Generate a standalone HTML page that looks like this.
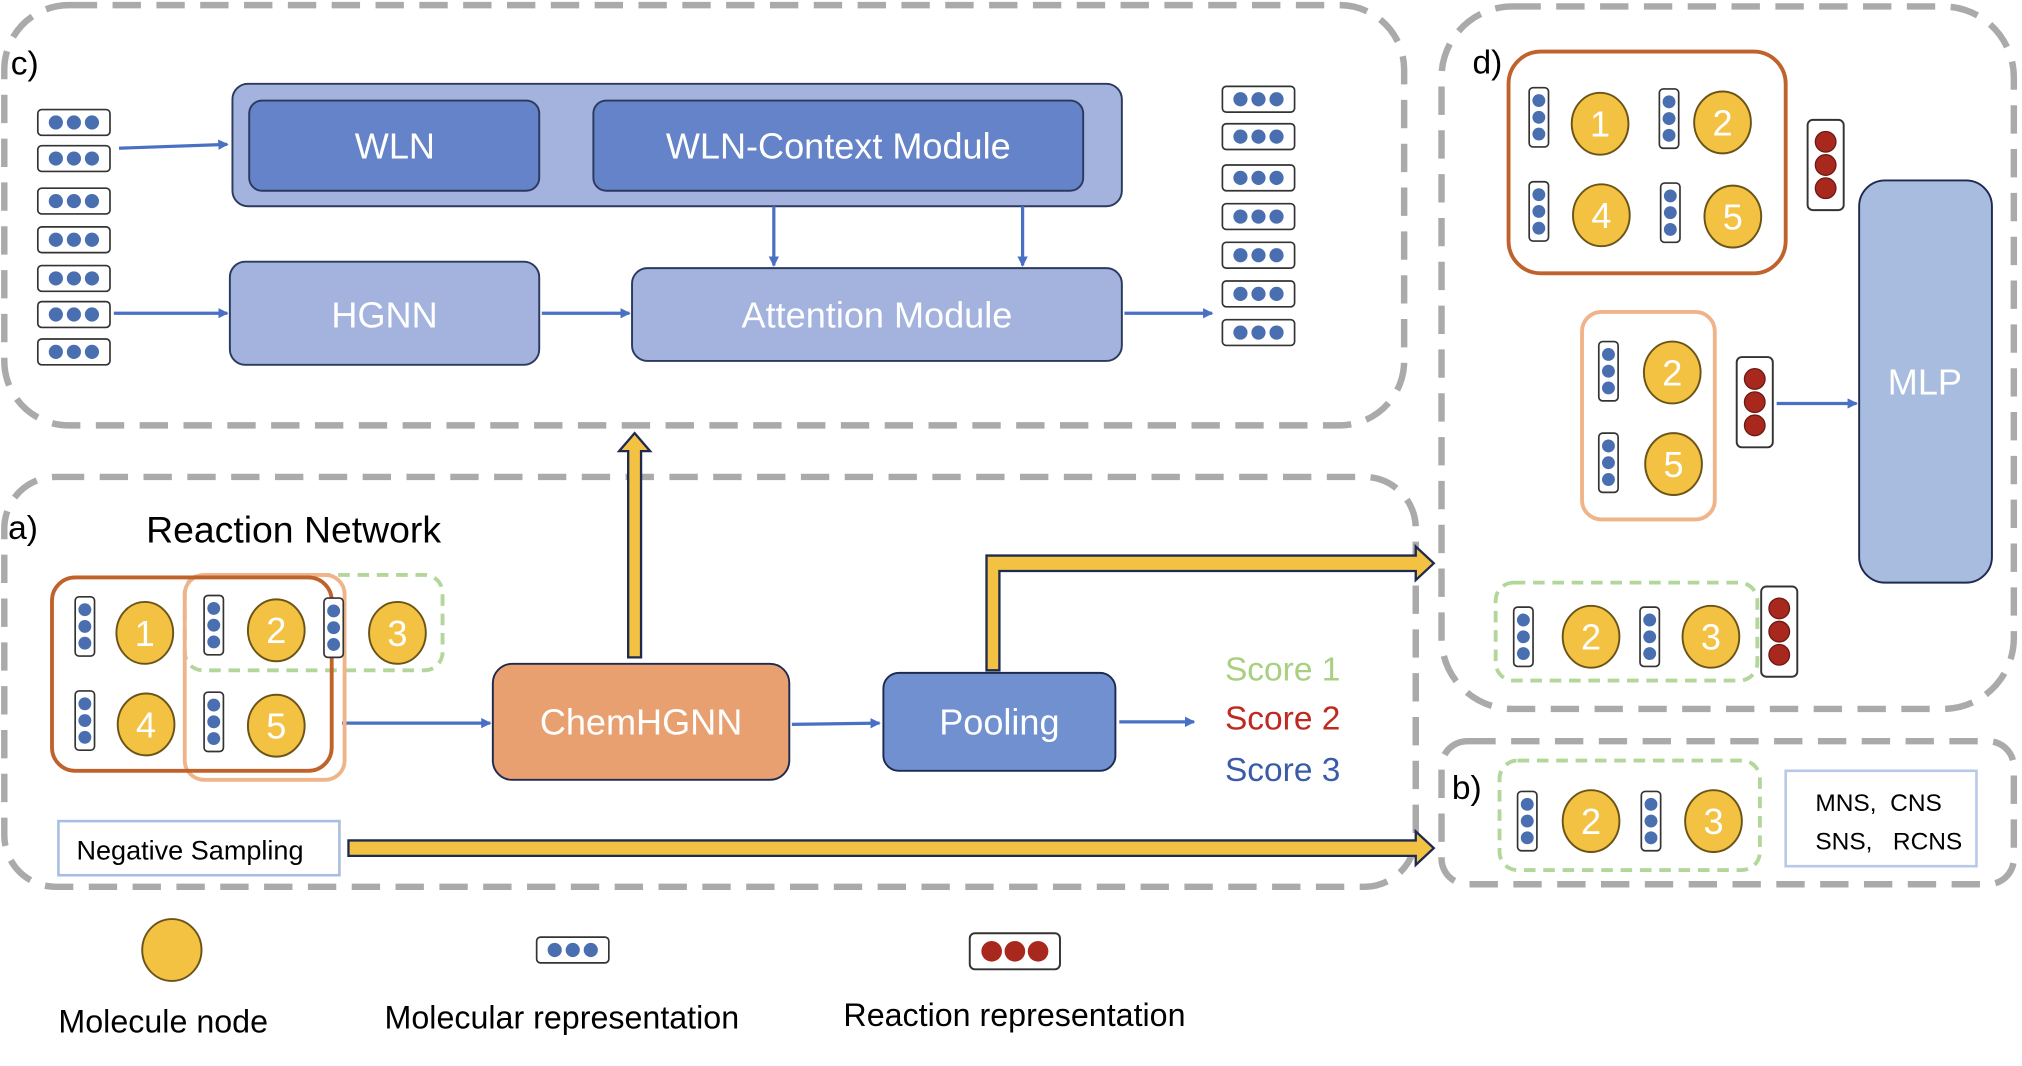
<!DOCTYPE html>
<html><head><meta charset="utf-8"><style>html,body{margin:0;padding:0;background:#fff}svg{display:block}text{font-family:"Liberation Sans",sans-serif}</style></head>
<body>
<svg width="2022" height="1066" viewBox="0 0 1568 827" xmlns="http://www.w3.org/2000/svg">
<defs>
<g id="v"><rect x="0" y="0" width="15" height="46" rx="3" fill="#fff" stroke="#333" stroke-width="1.3"/><circle cx="7.5" cy="10" r="5" fill="#4a6fb0"/><circle cx="7.5" cy="23" r="5" fill="#4a6fb0"/><circle cx="7.5" cy="36" r="5" fill="#4a6fb0"/></g>
<g id="h"><rect x="0" y="0" width="56" height="20" rx="3" fill="#fff" stroke="#333" stroke-width="1.3"/><circle cx="14" cy="10" r="5.5" fill="#4a6fb0"/><circle cx="28" cy="10" r="5.5" fill="#4a6fb0"/><circle cx="42" cy="10" r="5.5" fill="#4a6fb0"/></g>
<g id="r"><rect x="0" y="0" width="28" height="70" rx="4" fill="#fff" stroke="#333" stroke-width="1.5"/><circle cx="14" cy="17" r="8" fill="#a8281e" stroke="#6a1a14"/><circle cx="14" cy="35" r="8" fill="#a8281e" stroke="#6a1a14"/><circle cx="14" cy="53" r="8" fill="#a8281e" stroke="#6a1a14"/></g>
<g id="c"><ellipse cx="0" cy="0" rx="22" ry="24" fill="#f4c242" stroke="#6a5418" stroke-width="1.5"/></g>
<marker id="ab" markerWidth="8" markerHeight="8" refX="7" refY="4" orient="auto" markerUnits="userSpaceOnUse"><path d="M0,0 L8,4 L0,8 z" fill="#4a70c4"/></marker>
</defs>
<g fill="none" stroke="#aaa" stroke-width="5" stroke-dasharray="22 12">
<rect x="3" y="4" width="1086" height="326" rx="50"/>
<rect x="3" y="370" width="1095" height="318" rx="40"/>
<rect x="1118" y="5" width="444" height="545" rx="55"/>
<rect x="1118" y="575" width="444" height="111" rx="20"/>
</g>
<g font-size="26" fill="#000">
<text x="8" y="58">c)</text><text x="6" y="418">a)</text><text x="1142" y="57">d)</text><text x="1126" y="620">b)</text>
<text x="113" y="421" font-size="29">Reaction Network</text>
</g>
<g>
<use href="#h" x="29" y="85"/><use href="#h" x="29" y="113"/><use href="#h" x="29" y="146"/><use href="#h" x="29" y="176"/><use href="#h" x="29" y="206"/><use href="#h" x="29" y="234"/><use href="#h" x="29" y="263"/>
<use href="#h" x="948" y="67"/><use href="#h" x="948" y="96"/><use href="#h" x="948" y="128"/><use href="#h" x="948" y="158"/><use href="#h" x="948" y="188"/><use href="#h" x="948" y="218"/><use href="#h" x="948" y="248"/>
</g>
<rect x="180" y="65" width="690" height="95" rx="12" fill="#a3b3de" stroke="#2b3a5e" stroke-width="1.5"/>
<rect x="193" y="78" width="225" height="70" rx="10" fill="#6583c8" stroke="#2b3a5e" stroke-width="1.5"/>
<rect x="460" y="78" width="380" height="70" rx="10" fill="#6583c8" stroke="#2b3a5e" stroke-width="1.5"/>
<rect x="178" y="203" width="240" height="80" rx="12" fill="#a3b3de" stroke="#2b3a5e" stroke-width="1.5"/>
<rect x="490" y="208" width="380" height="72" rx="12" fill="#a3b3de" stroke="#2b3a5e" stroke-width="1.5"/>
<g fill="#fff" font-size="28" text-anchor="middle">
<text x="306" y="123">WLN</text><text x="650" y="123">WLN-Context Module</text>
<text x="298" y="254">HGNN</text><text x="680" y="254">Attention Module</text>
</g>
<g stroke="#4a70c4" stroke-width="2.5" marker-end="url(#ab)">
<line x1="92" y1="115" x2="176" y2="112"/><line x1="88" y1="243" x2="176" y2="243"/>
<line x1="420" y1="243" x2="488" y2="243"/><line x1="600" y1="160" x2="600" y2="206"/>
<line x1="793" y1="160" x2="793" y2="206"/><line x1="872" y1="243" x2="940" y2="243"/>
<line x1="265" y1="561" x2="380" y2="561"/><line x1="614" y1="562" x2="682" y2="561"/>
<line x1="868" y1="560" x2="926" y2="560"/><line x1="1378" y1="313" x2="1440" y2="313"/>
</g>
<g fill="#f4c242" stroke="#1e2a50" stroke-width="1.8">
<path d="M487,510 L487,350 L480,350 L492,336 L504,350 L497,350 L497,510 Z"/>
<path d="M765,520 L765,431 L1098,431 L1098,424 L1112,437 L1098,450 L1098,443 L775,443 L775,520 Z"/>
<path d="M270,652 L1098,652 L1098,645 L1112,658 L1098,671 L1098,664 L270,664 Z"/>
</g>
<rect x="143" y="446" width="200" height="74" rx="14" fill="none" stroke="#b3d69b" stroke-width="3" stroke-dasharray="9 6"/>
<rect x="143" y="446" width="124" height="159" rx="15" fill="none" stroke="#f0b48a" stroke-width="3"/>
<rect x="40" y="448" width="217" height="150" rx="18" fill="none" stroke="#c0622b" stroke-width="3"/>
<use href="#v" x="58" y="463"/><use href="#v" x="158" y="462"/><use href="#v" x="251" y="464"/>
<use href="#v" x="58" y="536"/><use href="#v" x="158" y="537"/>
<use href="#c" x="112" y="491"/><use href="#c" x="214" y="489"/><use href="#c" x="308" y="491"/><use href="#c" x="113" y="562"/><use href="#c" x="214" y="563"/>
<rect x="382" y="515" width="230" height="90" rx="15" fill="#e8a070" stroke="#1e2a50" stroke-width="1.5"/>
<rect x="685" y="522" width="180" height="76" rx="12" fill="#7090d0" stroke="#1e2a50" stroke-width="1.5"/>
<g fill="#fff" font-size="28" text-anchor="middle"><text x="497" y="570">ChemHGNN</text><text x="775" y="570">Pooling</text></g>
<g font-size="26"><text x="950" y="528" fill="#a8d080">Score 1</text><text x="950" y="566" fill="#c0291f">Score 2</text><text x="950" y="606" fill="#3a5ca8">Score 3</text></g>
<rect x="45" y="637" width="218" height="42" fill="#fff" stroke="#a8bde0" stroke-width="2"/>
<text x="59" y="667" font-size="21">Negative Sampling</text>
<rect x="1170" y="40" width="215" height="172" rx="25" fill="none" stroke="#c0622b" stroke-width="3"/>
<use href="#v" x="1186" y="68"/><use href="#v" x="1287" y="69"/><use href="#v" x="1186" y="141"/><use href="#v" x="1288" y="142"/>
<use href="#c" x="1241" y="96"/><use href="#c" x="1336" y="95"/><use href="#c" x="1242" y="167"/><use href="#c" x="1344" y="168"/>
<use href="#r" x="1402" y="93"/>
<rect x="1227" y="242" width="103" height="161" rx="15" fill="none" stroke="#f0b48a" stroke-width="3"/>
<use href="#v" x="1240" y="265"/><use href="#v" x="1240" y="336"/>
<use href="#c" x="1297" y="289"/><use href="#c" x="1298" y="360"/>
<use href="#r" x="1347" y="277"/>
<rect x="1442" y="140" width="103" height="312" rx="20" fill="#a8bce0" stroke="#1e2a50" stroke-width="1.5"/>
<text x="1493" y="306" fill="#fff" font-size="28" text-anchor="middle">MLP</text>
<rect x="1160" y="452" width="203" height="76" rx="14" fill="none" stroke="#b3d69b" stroke-width="3" stroke-dasharray="9 6"/>
<use href="#v" x="1174" y="471"/><use href="#v" x="1272" y="471"/>
<use href="#c" x="1234" y="494"/><use href="#c" x="1327" y="494"/>
<use href="#r" x="1366" y="455"/>
<rect x="1163" y="590" width="202" height="85" rx="14" fill="none" stroke="#b3d69b" stroke-width="3" stroke-dasharray="9 6"/>
<use href="#v" x="1177" y="614"/><use href="#v" x="1273" y="614"/>
<use href="#c" x="1234" y="637"/><use href="#c" x="1329" y="637"/>
<rect x="1385" y="598" width="148" height="74" fill="#fff" stroke="#b8c8e8" stroke-width="2"/>
<g font-size="19"><text x="1408" y="629">MNS,&#160; CNS</text><text x="1408" y="659">SNS,&#160;&#160; RCNS</text></g>
<g fill="#fff" font-size="28" text-anchor="middle">
<text x="112" y="501">1</text><text x="214" y="499">2</text><text x="308" y="501">3</text><text x="113" y="572">4</text><text x="214" y="573">5</text>
<text x="1241" y="106">1</text><text x="1336" y="105">2</text><text x="1242" y="177">4</text><text x="1344" y="178">5</text>
<text x="1297" y="299">2</text><text x="1298" y="370">5</text>
<text x="1234" y="504">2</text><text x="1327" y="504">3</text>
<text x="1234" y="647">2</text><text x="1329" y="647">3</text>
</g>
<ellipse cx="133" cy="737" rx="23" ry="24" fill="#f4c242" stroke="#6a5418" stroke-width="1.5"/>
<use href="#h" x="416" y="727"/>
<rect x="752" y="724" width="70" height="28" rx="4" fill="#fff" stroke="#333" stroke-width="1.5"/>
<circle cx="769" cy="738" r="8" fill="#a8281e"/><circle cx="787" cy="738" r="8" fill="#a8281e"/><circle cx="805" cy="738" r="8" fill="#a8281e"/>
<g font-size="25"><text x="45" y="801">Molecule node</text><text x="298" y="798">Molecular representation</text><text x="654" y="796">Reaction representation</text></g>
</svg>
</body></html>
